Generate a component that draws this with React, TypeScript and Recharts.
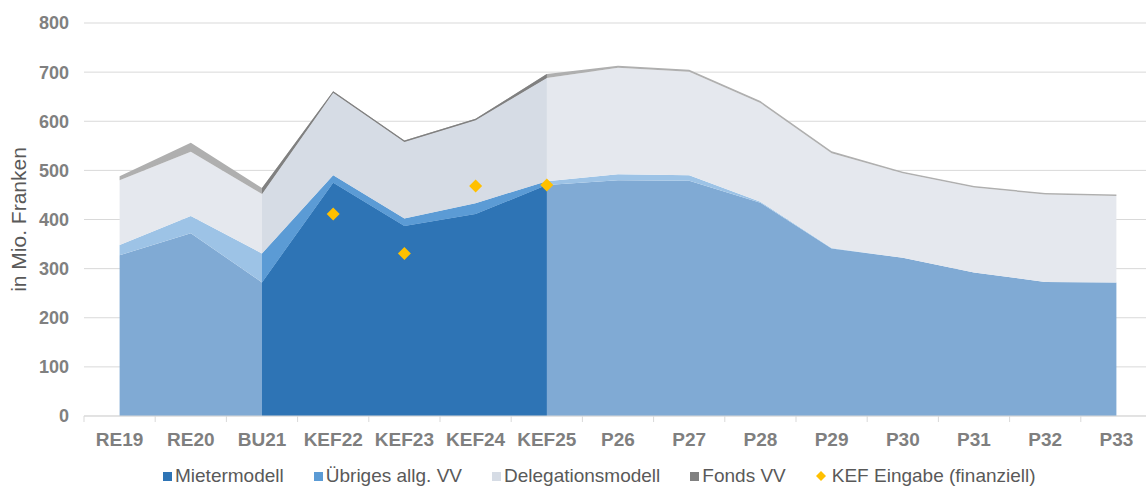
import React from 'react'
import { ComposedChart, Area, Scatter, XAxis, YAxis, CartesianGrid } from 'recharts'

const categories = ['RE19', 'RE20', 'BU21', 'KEF22', 'KEF23', 'KEF24', 'KEF25', 'P26', 'P27', 'P28', 'P29', 'P30', 'P31', 'P32', 'P33']
const mietermodell = [327, 372, 272, 475, 387, 411, 470, 480, 479, 434, 341, 322, 292, 273, 272]
const uebriges = [21, 35, 59, 15, 15, 22, 8, 12, 11, 2, 1, 0, 0, 0, 0]
const delegation = [132, 131, 121, 168, 156, 169, 210, 217, 211, 201, 193, 172, 173, 178, 176]
const fonds = [8, 18, 12, 3, 3, 3, 8, 4, 4, 4, 4, 3, 3, 3, 3]
const kefEingabe: (number | null)[] = [null, null, null, 411, 331, 468, 470, null, null, null, null, null, null, null, null]
// categories drawn in the darker KEF colours
const kefPeriod = ['BU21', 'KEF22', 'KEF23', 'KEF24', 'KEF25']
const yTicks = [0, 100, 200, 300, 400, 500, 600, 700, 800]

const FONT = '"Liberation Sans", Arial, sans-serif'

const light = { miet: '#80aad4', ueb: '#9dc3e6', del: '#e5e8ee', fonds: '#afafaf' }
const dark = { miet: '#2e74b5', ueb: '#5b9bd5', del: '#d6dce5', fonds: '#808080' }

const rows = categories.map((c, i) => {
  const isKef = kefPeriod.includes(c)
  return {
    idx: i,
    name: c,
    miet: mietermodell[i],
    ueb: uebriges[i],
    del: delegation[i],
    fonds: fonds[i],
    mietK: isKef ? mietermodell[i] : null,
    uebK: isKef ? uebriges[i] : null,
    delK: isKef ? delegation[i] : null,
    fondsK: isKef ? fonds[i] : null,
    kef: kefEingabe[i],
  }
})
const kefRows = rows.filter((r) => r.kef != null)

// category centres get labels, band edges get small tick marks
const xTicks: number[] = []
categories.forEach((_, i) => {
  xTicks.push(i - 0.5, i)
})
xTicks.push(categories.length - 0.5)

const XTick = (props: any) => {
  const { x, y, payload } = props
  const v = payload.value
  if (Number.isInteger(v)) {
    return (
      <text x={x} y={y + 17} dy="0.71em" textAnchor="middle" fill="#7f7f7f" fontSize={19} fontWeight="bold" fontFamily={FONT}>
        {categories[v]}
      </text>
    )
  }
  return <line x1={x} x2={x} y1={y} y2={y + 6} stroke="#d9d9d9" />
}

const Diamond = (props: any) => {
  const { cx, cy } = props
  if (cx == null || cy == null || isNaN(cy)) return <g />
  const r = 6.5
  return <path d={`M${cx},${cy - r}L${cx + r},${cy}L${cx},${cy + r}L${cx - r},${cy}Z`} fill="#ffc000" />
}

const legendItems = [
  { label: 'Mietermodell', color: dark.miet, diamond: false },
  { label: 'Übriges allg. VV', color: dark.ueb, diamond: false },
  { label: 'Delegationsmodell', color: dark.del, diamond: false },
  { label: 'Fonds VV', color: dark.fonds, diamond: false },
  { label: 'KEF Eingabe (finanziell)', color: '#ffc000', diamond: true },
]

export default function App() {
  return (
    <div style={{ position: 'absolute', left: 0, top: 0, width: 1146, height: 487, overflow: 'hidden', background: '#fff' }}>
      <ComposedChart width={1160} height={487} data={rows} margin={{ top: 23, right: 8, bottom: 0, left: 0 }}>
        <CartesianGrid vertical={false} stroke="#d9d9d9" />
        <XAxis
          type="number"
          dataKey="idx"
          domain={[-0.5, categories.length - 0.5]}
          ticks={xTicks}
          interval={0}
          tickLine={false}
          tickSize={0}
          tickMargin={0}
          tick={<XTick />}
          axisLine={{ stroke: '#d9d9d9' }}
          height={71}
        />
        <YAxis
          domain={[0, 800]}
          ticks={yTicks}
          width={84}
          axisLine={false}
          tickLine={false}
          tickMargin={9}
          tick={{ fill: '#808080', fontSize: 18, fontWeight: 'bold', fontFamily: FONT }}
          label={{
            value: 'in Mio. Franken',
            angle: -90,
            position: 'insideLeft',
            offset: 19,
            style: { textAnchor: 'middle', fill: '#595959', fontSize: 21, fontFamily: FONT },
          }}
        />
        <Area type="linear" dataKey="miet" stackId="a" fill={light.miet} fillOpacity={1} stroke="none" isAnimationActive={false} />
        <Area type="linear" dataKey="ueb" stackId="a" fill={light.ueb} fillOpacity={1} stroke="none" isAnimationActive={false} />
        <Area type="linear" dataKey="del" stackId="a" fill={light.del} fillOpacity={1} stroke="none" isAnimationActive={false} />
        <Area type="linear" dataKey="fonds" stackId="a" fill={light.fonds} fillOpacity={1} stroke="none" isAnimationActive={false} />
        <Area type="linear" dataKey="mietK" stackId="b" fill={dark.miet} fillOpacity={1} stroke="none" isAnimationActive={false} />
        <Area type="linear" dataKey="uebK" stackId="b" fill={dark.ueb} fillOpacity={1} stroke="none" isAnimationActive={false} />
        <Area type="linear" dataKey="delK" stackId="b" fill={dark.del} fillOpacity={1} stroke="none" isAnimationActive={false} />
        <Area type="linear" dataKey="fondsK" stackId="b" fill={dark.fonds} fillOpacity={1} stroke="none" isAnimationActive={false} />
        <Scatter data={kefRows} dataKey="kef" shape={<Diamond />} isAnimationActive={false} />
      </ComposedChart>
      <div
        style={{
          position: 'absolute',
          left: 163,
          top: 465,
          display: 'flex',
          alignItems: 'center',
          gap: 30,
          fontFamily: FONT,
          fontSize: 19,
          color: '#595959',
          whiteSpace: 'nowrap',
        }}
      >
        {legendItems.map((it) => (
          <div key={it.label} style={{ display: 'flex', alignItems: 'center' }}>
            {it.diamond ? (
              <svg width={10} height={10} style={{ marginRight: 6 }}>
                <path d="M5,0L10,5L5,10L0,5Z" fill={it.color} />
              </svg>
            ) : (
              <span style={{ display: 'inline-block', width: 9, height: 9, background: it.color, marginRight: 3 }} />
            )}
            <span>{it.label}</span>
          </div>
        ))}
      </div>
    </div>
  )
}
